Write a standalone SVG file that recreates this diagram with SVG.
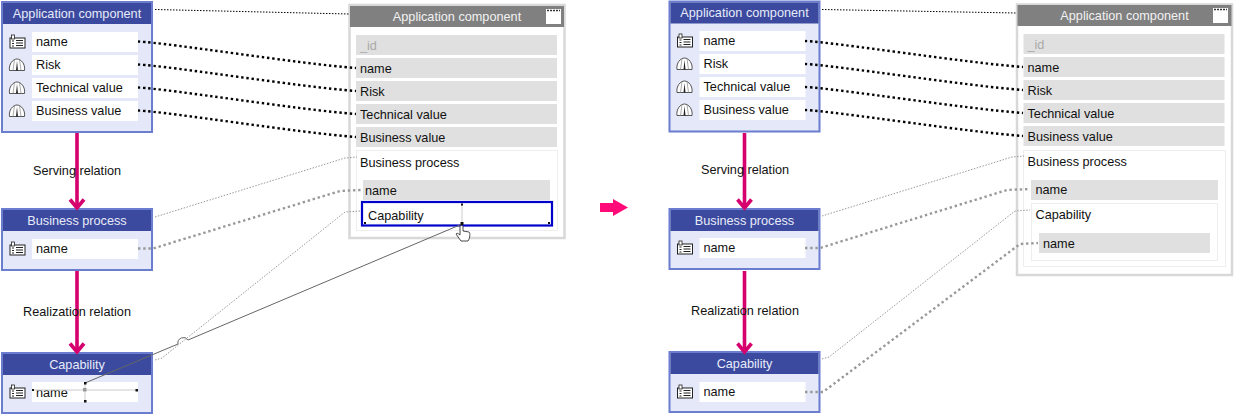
<svg xmlns="http://www.w3.org/2000/svg" width="1235" height="416" viewBox="0 0 1235 416">
<style>
text{font-family:"Liberation Sans",Arial,sans-serif;font-size:12.7px;fill:#111}
.t{fill:#e8ebfa;text-anchor:middle}
.pt{fill:#f2f2f2;text-anchor:middle}
.m{text-anchor:middle}
.body{fill:#e4e8f8;stroke:#6a7dcf;stroke-width:2}
.head{fill:#3b4a9e}
.row{fill:#fff}
.panel{fill:#fff;stroke:#d8d8d8;stroke-width:2.500}
.phead{fill:#808080}
.g{fill:#e0e0e0}
.box{fill:#fff;stroke:#eee;stroke-width:1}
.d1{fill:none;stroke:#000;stroke-width:2.400;stroke-dasharray:2.400 2.800}
.d0{fill:none;stroke:#000;stroke-width:1;stroke-dasharray:1.500 1.500}
.d2{fill:none;stroke:#999;stroke-width:2.400;stroke-dasharray:2.400 2.800}
.d3{fill:none;stroke:#999;stroke-width:1;stroke-dasharray:1.500 1.500}
.rel{fill:none;stroke:#d5006d;stroke-width:3.600}
.ico{fill:#fff;stroke:#222;stroke-width:1}
.h{fill:#111}
</style>
<defs>
<g id="attr"><rect class="ico" x="-7" y="-4" width="15" height="10"/><rect x="-5.500" y="-7" width="3" height="4" fill="#fff" stroke="#222" stroke-width=".8"/><path d="M-5-1h2M-5 1.500h2M-5 4h2M-1-1.500h7M-1 1h7M-1 3.500h7" stroke="#222" fill="none"/></g>
<g id="gauge"><path d="M-7.500 5.500C-8.500-1-4-6 0-6S8.500-1 7.500 5.500Z" fill="#fff" stroke="#444" stroke-width=".9"/><path d="M-4 5.500L-2.500-5.500M4 5.500L2.500-5.500" stroke="#888" stroke-width=".7" fill="none"/><path d="M-1 5.500L0-4 1 5.500Z" fill="#222"/></g>
<g id="win"><rect x="0" y="0" width="15" height="15" fill="#fff"/><path d="M1 1.500h13" stroke="#333" stroke-width="1.500" stroke-dasharray="2 1"/></g>
<path id="ah" class="rel" d="M-7-8.500L0 0 7-8.500"/>
</defs>

<g id="app-left">
<rect class="body" x="2" y="2" width="150" height="130"/><rect class="head" x="3" y="3" width="148" height="21"/>
<text class="t" x="77" y="18">Application component</text>
<rect class="row" x="32" y="32" width="106" height="20"/><rect class="row" x="32" y="55" width="106" height="20"/><rect class="row" x="32" y="78" width="106" height="20"/><rect class="row" x="32" y="101" width="106" height="20"/>
<use href="#attr" x="17" y="42"/><use href="#gauge" x="17" y="65"/><use href="#gauge" x="17" y="88"/><use href="#gauge" x="17" y="111"/>
<text x="36" y="46">name</text><text x="36" y="69">Risk</text><text x="36" y="92">Technical value</text><text x="36" y="115">Business value</text>
</g>
<g id="bp-left">
<rect class="body" x="2" y="209" width="150" height="61"/><rect class="head" x="3" y="210" width="148" height="21"/>
<text class="t" x="77" y="225">Business process</text>
<rect class="row" x="32" y="239" width="106" height="20"/><use href="#attr" x="17" y="249"/><text x="36" y="253">name</text>
</g>
<g id="cap-left">
<rect class="body" x="2" y="353" width="150" height="60"/><rect class="head" x="3" y="354" width="148" height="21"/>
<text class="t" x="77" y="369">Capability</text>
<rect class="row" x="32" y="382" width="106" height="20"/><use href="#attr" x="17" y="392"/><text x="36" y="397">name</text>
</g>
<g id="panel-left">
<rect class="panel" x="349.500" y="5" width="215" height="233"/><rect class="phead" x="350" y="6" width="214" height="21"/>
<text class="pt" x="457" y="21">Application component</text><use href="#win" x="546" y="9"/>
<rect class="g" x="356" y="35" width="201" height="20"/><rect class="g" x="356" y="58" width="201" height="20"/><rect class="g" x="356" y="81" width="201" height="20"/><rect class="g" x="356" y="104" width="201" height="20"/><rect class="g" x="356" y="127" width="201" height="20"/>
<text x="360" y="50" style="fill:#aaa">_id</text><text x="360" y="72.500">name</text><text x="360" y="95.500">Risk</text><text x="360" y="118.500">Technical value</text><text x="360" y="141.500">Business value</text>
<rect class="box" x="356.500" y="150.500" width="201" height="80"/><text x="360" y="166.500">Business process</text>
<rect class="g" x="363" y="180" width="187" height="20"/><text x="365" y="194.500">name</text>
<rect x="362" y="202" width="190" height="23.500" fill="#fff" stroke="#0000c8" stroke-width="2.200"/><text x="368" y="219.500">Capability</text>
</g>
<g id="app-right">
<rect class="body" x="669.500" y="1.500" width="150" height="130"/><rect class="head" x="670.500" y="2.500" width="148" height="21"/>
<text class="t" x="744.500" y="17">Application component</text>
<rect class="row" x="699.500" y="31" width="106" height="20"/><rect class="row" x="699.500" y="54" width="106" height="20"/><rect class="row" x="699.500" y="77" width="106" height="20"/><rect class="row" x="699.500" y="100" width="106" height="20"/>
<use href="#attr" x="684.500" y="41"/><use href="#gauge" x="684.500" y="64"/><use href="#gauge" x="684.500" y="87"/><use href="#gauge" x="684.500" y="110"/>
<text x="703.500" y="45">name</text><text x="703.500" y="68">Risk</text><text x="703.500" y="91">Technical value</text><text x="703.500" y="114">Business value</text>
</g>
<g id="bp-right">
<rect class="body" x="669.500" y="209" width="150" height="60"/><rect class="head" x="670.500" y="210" width="148" height="21"/>
<text class="t" x="744.500" y="225">Business process</text>
<rect class="row" x="699.500" y="238" width="106" height="20"/><use href="#attr" x="684.500" y="248"/><text x="703.500" y="252">name</text>
</g>
<g id="cap-right">
<rect class="body" x="669.500" y="352" width="150" height="60"/><rect class="head" x="670.500" y="353" width="148" height="21"/>
<text class="t" x="744.500" y="368">Capability</text>
<rect class="row" x="699.500" y="382" width="106" height="20"/><use href="#attr" x="684.500" y="392"/><text x="703.500" y="396">name</text>
</g>
<g id="panel-right">
<rect class="panel" x="1017" y="4.500" width="215" height="270.500"/><rect class="phead" x="1017.500" y="5" width="214" height="21"/>
<text class="pt" x="1124.500" y="20">Application component</text><use href="#win" x="1213" y="8"/>
<rect class="g" x="1023.500" y="34" width="201" height="20"/><rect class="g" x="1023.500" y="57" width="201" height="20"/><rect class="g" x="1023.500" y="80" width="201" height="20"/><rect class="g" x="1023.500" y="103" width="201" height="20"/><rect class="g" x="1023.500" y="126" width="201" height="20"/>
<text x="1027.500" y="49" style="fill:#aaa">_id</text><text x="1027.500" y="72">name</text><text x="1027.500" y="95">Risk</text><text x="1027.500" y="118">Technical value</text><text x="1027.500" y="141">Business value</text>
<rect class="box" x="1023.500" y="150.500" width="202" height="116"/><text x="1027.500" y="166">Business process</text>
<rect class="g" x="1031" y="180" width="187" height="20"/><text x="1035.500" y="194">name</text>
<rect class="box" x="1031.500" y="203.500" width="186" height="57"/><text x="1035.500" y="219">Capability</text>
<rect class="g" x="1039" y="233" width="171" height="20"/><text x="1043" y="248">name</text>
</g>

<g id="connectors">
<path class="d0" d="M155 9.500L349 14"/>
<path class="d1" d="M138 41.500C170 43 300 64 356 68"/>
<path class="d1" d="M138 64.500C170 66 300 87 356 91"/>
<path class="d1" d="M138 87.500C170 89 300 110 356 114"/>
<path class="d1" d="M138 110.500C170 112 300 133 356 137"/>
<path class="d3" d="M155 217L345 158 357 157"/>
<path class="d2" d="M138 248.500H153L340 191 362 190"/>
<path class="d3" d="M155 360L162 358 345 212 361 211"/>
<path class="d0" d="M822 9.500L1016 13"/>
<path class="d1" d="M805 41C837 42.500 967 63 1023 67"/>
<path class="d1" d="M805 64C837 65.500 967 86 1023 90"/>
<path class="d1" d="M805 87C837 88.500 967 109 1023 113"/>
<path class="d1" d="M805 110C837 111.500 967 132 1023 136"/>
<path class="d3" d="M822 216L1012 157 1024 156"/>
<path class="d2" d="M805 248H820L1007 190 1030 189"/>
<path class="d3" d="M822 359L829 357 1015 211 1030 210"/>
<path class="d2" d="M805 392H823L1020 244 1038 243"/>
<path class="rel" d="M77 133V207"/><use href="#ah" x="77" y="208"/>
<path class="rel" d="M77 271V351"/><use href="#ah" x="77" y="352"/>
<path class="rel" d="M744.500 133V207"/><use href="#ah" x="744.500" y="208"/>
<path class="rel" d="M744.500 271V351"/><use href="#ah" x="744.500" y="352"/>
<text class="m" x="77" y="175">Serving relation</text>
<text class="m" x="77" y="316">Realization relation</text>
<text class="m" x="745" y="174">Serving relation</text>
<text class="m" x="745" y="315">Realization relation</text>
</g>

<g id="drag-overlay">
<path d="M85 383L178 344A5.500 5.500 0 0 1 188 340L461 224.500" fill="none" stroke="#666" stroke-width="1"/>
<path d="M33 390H136M85 384V401" stroke="#ccc" fill="none"/>
<path d="M462 205V223" stroke="#ccc" fill="none"/>
<rect x="83" y="388" width="3.500" height="3.500" fill="#999"/>
<rect class="h" x="32" y="389" width="2" height="2"/><rect class="h" x="135.500" y="389" width="2.500" height="2.500"/><rect class="h" x="84" y="382" width="2.500" height="2.500"/><rect class="h" x="84" y="400" width="2.500" height="2.500"/>
<rect class="h" x="461" y="203.500" width="2" height="2"/><rect class="h" x="460.500" y="222" width="3" height="3"/><rect class="h" x="364" y="222" width="2" height="2"/><rect class="h" x="548" y="222" width="2" height="2"/>
<path d="M460 227C460 225 463 225 463 227V231L469 232C470.500 233 470 238 468 241H461L456 234C456.500 233 458 233 460 235Z" fill="#fff" stroke="#333" stroke-width=".9"/>
</g>
<polygon id="big-arrow" points="600,203 613,203 613,199 628,207.500 613,216 613,212 600,212" fill="#ff0a78"/>
</svg>
